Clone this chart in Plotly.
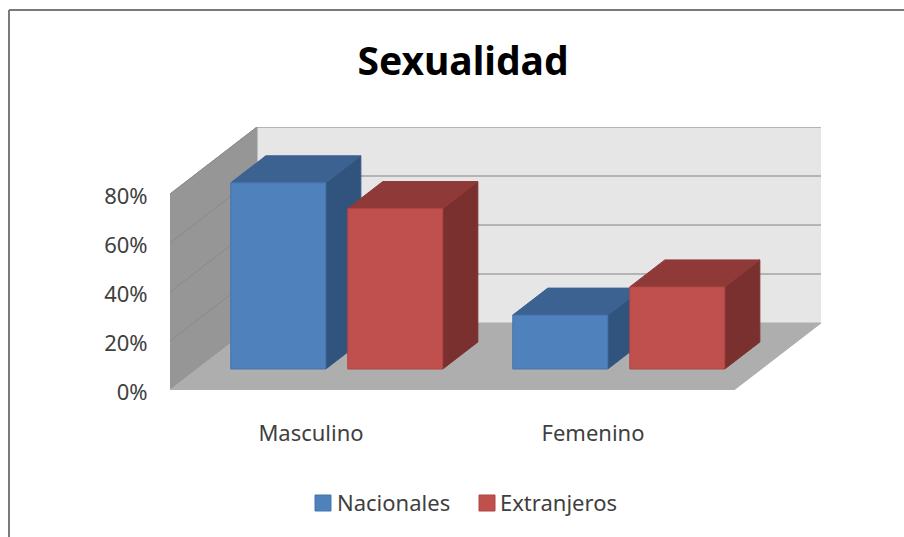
import plotly.graph_objects as go

categories = ["Masculino", "Femenino"]
nacionales = [76, 22]
extranjeros = [65.5, 33.5]
ticks = [0, 20, 40, 60, 80]
tick_labels = ["0%", "20%", "40%", "60%", "80%"]
legend_names = ["Nacionales", "Extranjeros"]

FONT = "Noto Sans"
TXT = "#3f3f3f"
W, H = 904, 537
L, T, R, B = 170, 127, 83, 147      # plot area margins
SLOT = 282                          # px per category
PX_PER_PCT = 2.45
DX = 87 / SLOT                      # depth shear, x axis units
DY = 67 / PX_PER_PCT                # depth shear, y axis units
BAR_W = 95 / SLOT
BAR_OFF = [33.5 / SLOT, 150.5 / SLOT]
D0, D1 = 21 / 67, 48 / 67           # depth range of the bars
NCAT = len(categories)


def proj(x, v, d):
    return x + d * DX, v + d * DY


def poly(points, fill, line=None, lw=1):
    xs, ys = zip(*[proj(*p) for p in points + points[:1]])
    return go.Scatter(x=xs, y=ys, mode="lines", fill="toself", fillcolor=fill,
                      line=dict(color=line or fill, width=lw), hoverinfo="skip",
                      showlegend=False, cliponaxis=False)


def segment(points, color, width):
    xs, ys = zip(*[proj(*p) for p in points])
    return go.Scatter(x=xs, y=ys, mode="lines", hoverinfo="skip", showlegend=False,
                      cliponaxis=False, line=dict(color=color, width=width))


fig = go.Figure()
vmax = ticks[-1]
# walls and floor
fig.add_trace(poly([(0, 0, 1), (NCAT, 0, 1), (NCAT, vmax, 1), (0, vmax, 1)], "#E6E6E6"))
fig.add_trace(poly([(0, 0, 0), (0, vmax, 0), (0, vmax, 1), (0, 0, 1)], "#969696"))
fig.add_trace(poly([(0, 0, 0), (NCAT, 0, 0), (NCAT, 0, 1), (0, 0, 1)], "#AEAEAE"))
# gridlines
for t in ticks[1:]:
    fig.add_trace(segment([(0, t, 0), (0, t, 1)], "#8A8A8A", 1))
    fig.add_trace(segment([(0, t, 1), (NCAT, t, 1)], "#A3A3A3", 1.6))

# bars
series = [
    (nacionales, "#4F81BD", "#3C6291", "#31547F", "#4674AB"),
    (extranjeros, "#C0504D", "#8F3A38", "#7A302E", "#B04542"),
]
for c in range(NCAT):
    for s, (vals, front, top, side, edge) in enumerate(series):
        v = vals[c]
        a = c + BAR_OFF[s]
        b = a + BAR_W
        fig.add_trace(poly([(b, 0, D0), (b, 0, D1), (b, v, D1), (b, v, D0)], side))
        fig.add_trace(poly([(a, v, D0), (b, v, D0), (b, v, D1), (a, v, D1)], top))
        fig.add_trace(poly([(a, 0, D0), (b, 0, D0), (b, v, D0), (a, v, D0)], front, edge))


def px(x):
    return (x - L) / (W - L - R)


def py(y):
    return (H - B - y) / (H - T - B)


frame = dict(color="#7A7A7A", width=2)
shapes = [
    dict(type="line", xref="paper", yref="paper", x0=px(9), x1=px(904), y0=py(10), y1=py(10), line=frame),
    dict(type="line", xref="paper", yref="paper", x0=px(9), x1=px(9), y0=py(10), y1=py(537), line=frame),
]
annotations = []
# legend: key square plus label, placed to the reference's tight spacing
for name, (vals, front, top, side, edge), key_x, text_x in zip(legend_names, series, [315, 479], [335, 498]):
    shapes.append(dict(type="rect", xref="paper", yref="paper",
                       x0=px(key_x), x1=px(key_x + 16), y0=py(495), y1=py(511),
                       fillcolor=front, line=dict(color=edge, width=1)))
    annotations.append(dict(text=name, xref="paper", yref="paper", x=px(text_x), y=py(502),
                            xanchor="left", yanchor="middle", showarrow=False,
                            font=dict(family=FONT, size=22, color=TXT)))

fig.update_layout(
    width=W, height=H, autosize=False, showlegend=False,
    margin=dict(l=L, r=R, t=T, b=B),
    paper_bgcolor="white", plot_bgcolor="white",
    font=dict(family=FONT, size=22, color=TXT),
    title=dict(text="<b>Sexualidad</b>", font=dict(family=FONT, size=39, color="#000000"),
               x=463 / W, y=1 - 61 / H, xref="container", yref="container",
               xanchor="center", yanchor="middle"),
    xaxis=dict(range=[0, (W - L - R) / SLOT], tickmode="array",
               tickvals=[i + 0.5 for i in range(NCAT)], ticktext=categories,
               showgrid=False, zeroline=False, showline=False,
               ticks="outside", ticklen=24, tickcolor="rgba(0,0,0,0)", fixedrange=True),
    yaxis=dict(range=[0, (H - T - B) / PX_PER_PCT], tickmode="array",
               tickvals=ticks, ticktext=tick_labels, ticklabelshift=2,
               showgrid=False, zeroline=False, showline=False,
               ticks="outside", ticklen=17, tickcolor="rgba(0,0,0,0)", fixedrange=True),
    shapes=shapes,
    annotations=annotations,
)

fig.write_html("out.html", config={"displayModeBar": False},
               post_script="document.body.style.margin='0';")
